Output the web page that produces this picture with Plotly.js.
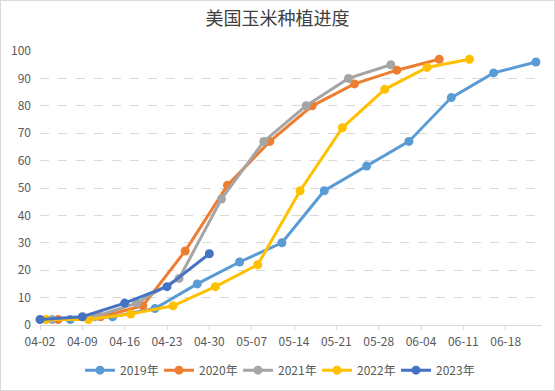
<!DOCTYPE html>
<html><head><meta charset="utf-8">
<script src="https://cdn.plot.ly/plotly-3.0.1.min.js"></script>
<style>
html,body{margin:0;padding:0;background:#fff;}
#wrap{width:553px;height:389px;border:1px solid #D9D9D9;}
#chart{width:553px;height:389px;}
</style></head>
<body><div id="wrap"><div id="chart"></div></div>
<script>
const seriesNames = ["2019年","2020年","2021年","2022年","2023年"];
const colors = ["#5B9BD5","#ED7D31","#A5A5A5","#FFC000","#4472C4"];
const dates2019 = ["04-07","04-14","04-21","04-28","05-05","05-12","05-19","05-26","06-02","06-09","06-16","06-23"];
const vals2019  = [2,3,6,15,23,30,49,58,67,83,92,96];
const dates2020 = ["04-05","04-12","04-19","04-26","05-03","05-10","05-17","05-24","05-31","06-07"];
const vals2020  = [2,3,7,27,51,67,80,88,93,97];
const dates2021 = ["04-04","04-11","04-18","04-25","05-02","05-09","05-16","05-23","05-30"];
const vals2021  = [2,3,8,17,46,67,80,90,95];
const dates2022 = ["04-03","04-10","04-17","04-24","05-01","05-08","05-15","05-22","05-29","06-05","06-12"];
const vals2022  = [2,2,4,7,14,22,49,72,86,94,97];
const dates2023 = ["04-02","04-09","04-16","04-23","04-30"];
const vals2023  = [2,3,8,14,26];

const allDates = [dates2019,dates2020,dates2021,dates2022,dates2023];
const allVals = [vals2019,vals2020,vals2021,vals2022,vals2023];
const baseYear = "2023-";

const traces = seriesNames.map((n,i)=>({
  type:"scatter", mode:"lines+markers", name:n,
  x: allDates[i].map(d=>baseYear+d), y: allVals[i],
  line:{color:colors[i], width:3},
  marker:{color:colors[i], size:9, symbol:"circle"},
  cliponaxis:false
}));

const font = "'Microsoft YaHei','Noto Sans CJK SC','Noto Sans',sans-serif";
const layout = {
  width:553, height:389,
  margin:{l:39, r:12, t:50, b:65, autoexpand:false},
  paper_bgcolor:"#fff", plot_bgcolor:"#fff",
  font:{family:font, size:12, color:"#595959"},
  title:{text:"美国玉米种植进度", x:0.5, xanchor:"center", y:0.955, yanchor:"middle", yref:"container",
    font:{family:"'Noto Sans CJK SC',sans-serif", size:18, color:"#404040"}},
  showlegend:true,
  legend:{orientation:"h", x:0.5, xanchor:"center", xref:"container", y:0.051, yanchor:"middle", yref:"container",
    font:{size:12, color:"#595959"}, entrywidth:34, entrywidthmode:"pixels", tracegroupgap:0},
  xaxis:{type:"date", range:["2023-04-02","2023-06-24"], tick0:"2023-04-02", dtick:7*86400000,
    tickformat:"%m-%d", showgrid:false, showline:true, linecolor:"#D9D9D9", linewidth:1,
    ticks:"outside", ticklen:4, tickcolor:"#D9D9D9", zeroline:false, ticklabelstandoff:2,
    tickfont:{size:12, color:"#595959"}},
  yaxis:{range:[0,100], dtick:10, showline:false, zeroline:false,
    gridcolor:"#D9D9D9", griddash:"dash", gridwidth:1, ticks:"", ticklabelstandoff:8,
    tickfont:{size:12, color:"#595959"}}
};
Plotly.newPlot("chart", traces, layout, {displayModeBar:false, staticPlot:true});
</script></body></html>
